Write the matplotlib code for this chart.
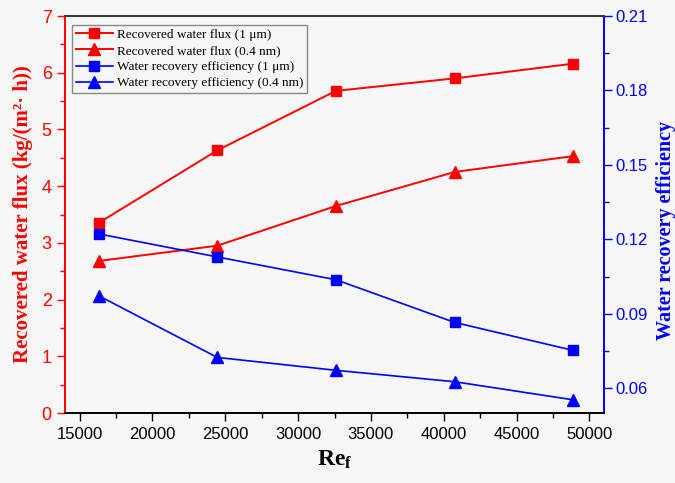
import matplotlib
matplotlib.use("Agg")
import matplotlib.pyplot as plt
from matplotlib.ticker import MultipleLocator

plt.rcParams['mathtext.fontset'] = 'custom'
plt.rcParams['mathtext.bf'] = 'Liberation Serif:bold'
plt.rcParams['mathtext.rm'] = 'Liberation Serif'
plt.rcParams['mathtext.it'] = 'Liberation Serif:italic'

re_f = [16300, 24450, 32600, 40750, 48900]
flux_1um = [3.35, 4.63, 5.68, 5.90, 6.16]
flux_04nm = [2.68, 2.95, 3.65, 4.25, 4.53]
eff_1um = [0.1222, 0.1129, 0.1037, 0.0865, 0.0752]
eff_04nm = [0.0973, 0.0724, 0.0672, 0.0626, 0.0553]

labels = ["Recovered water flux (1 μm)", "Recovered water flux (0.4 nm)",
          "Water recovery efficiency (1 μm)", "Water recovery efficiency (0.4 nm)"]

RED = '#ff0000'
BLUE = '#0000ff'
BG = '#f6f6f6'

fig = plt.figure(figsize=(6.75, 4.83), dpi=100)
fig.patch.set_facecolor(BG)
ax = fig.add_axes([65/675, 70/483, (604-65)/675, (413-16)/483])
ax.set_facecolor(BG)
ax2 = ax.twinx()

l1, = ax.plot(re_f, flux_1um, color=RED, marker='s', ms=7.5, lw=1.4, label=labels[0])
l2, = ax.plot(re_f, flux_04nm, color=RED, marker='^', ms=8.5, lw=1.4, label=labels[1])
l3, = ax2.plot(re_f, eff_1um, color=BLUE, marker='s', ms=7.5, lw=1.2, label=labels[2])
l4, = ax2.plot(re_f, eff_04nm, color=BLUE, marker='^', ms=8.5, lw=1.2, label=labels[3])

ax.set_xlim(14000, 51000)
ax.set_ylim(0, 7)
ax2.set_ylim(0.05, 0.21)

ax.xaxis.set_major_locator(MultipleLocator(5000))
ax.xaxis.set_minor_locator(MultipleLocator(2500))
ax.yaxis.set_major_locator(MultipleLocator(1))
ax.yaxis.set_minor_locator(MultipleLocator(0.5))
ax2.set_yticks([0.06, 0.09, 0.12, 0.15, 0.18, 0.21])
ax2.set_yticks([0.075, 0.105, 0.135, 0.165, 0.195], minor=True)
ax2.set_yticklabels(['0.06', '0.09', '0.12', '0.15', '0.18', '0.21'])

tick_font = 'Liberation Sans'
ax.tick_params(axis='x', which='both', direction='out', colors='black', labelsize=12, pad=4)
ax.tick_params(axis='x', which='major', length=6, width=1)
ax.tick_params(axis='x', which='minor', length=3.5, width=1)
ax.tick_params(axis='y', which='both', direction='out', colors=RED, labelsize=13)
ax.tick_params(axis='y', which='major', length=6, width=1)
ax.tick_params(axis='y', which='minor', length=3.5, width=1)
ax2.tick_params(axis='y', which='both', direction='out', colors=BLUE, labelsize=12, pad=2.5)
ax2.tick_params(axis='y', which='major', length=6, width=1)
ax2.tick_params(axis='y', which='minor', length=3.5, width=1)
for a in (ax, ax2):
    for lab in a.get_xticklabels() + a.get_yticklabels():
        lab.set_fontfamily(tick_font)

for a in (ax, ax2):
    a.spines['top'].set_color('#333333')
    a.spines['bottom'].set_color('black')
    a.spines['left'].set_color(RED)
    a.spines['right'].set_color(BLUE)
    for s in a.spines.values():
        s.set_linewidth(1.2)

ax.set_ylabel("Recovered water flux (kg/(m²· h))", color=RED, fontsize=15,
              fontweight='bold', fontfamily='Liberation Serif', labelpad=6)
ax2.set_ylabel("Water recovery efficiency", color=BLUE, fontsize=14.5,
               fontweight='bold', fontfamily='Liberation Serif')
ax2.yaxis.set_label_coords((656 - 65) / 539, (413 - 230) / 397)
ax.set_xlabel(r"$\mathbf{Re_f}$", fontsize=17, labelpad=4)

leg = ax2.legend(handles=[l1, l2, l3, l4], loc='upper left',
                 bbox_to_anchor=(0.008, 0.985), frameon=True, fancybox=False,
                 prop={'family': 'Liberation Serif', 'size': 9.5},
                 handlelength=2.8, handletextpad=0.3, borderpad=0.3,
                 labelspacing=0.3, borderaxespad=0.2)
leg.get_frame().set_edgecolor('#888888')
leg.get_frame().set_facecolor(BG)
leg.get_frame().set_linewidth(1.0)
leg.get_frame().set_alpha(1)

fig.savefig("out.png", dpi=100, facecolor=BG)
